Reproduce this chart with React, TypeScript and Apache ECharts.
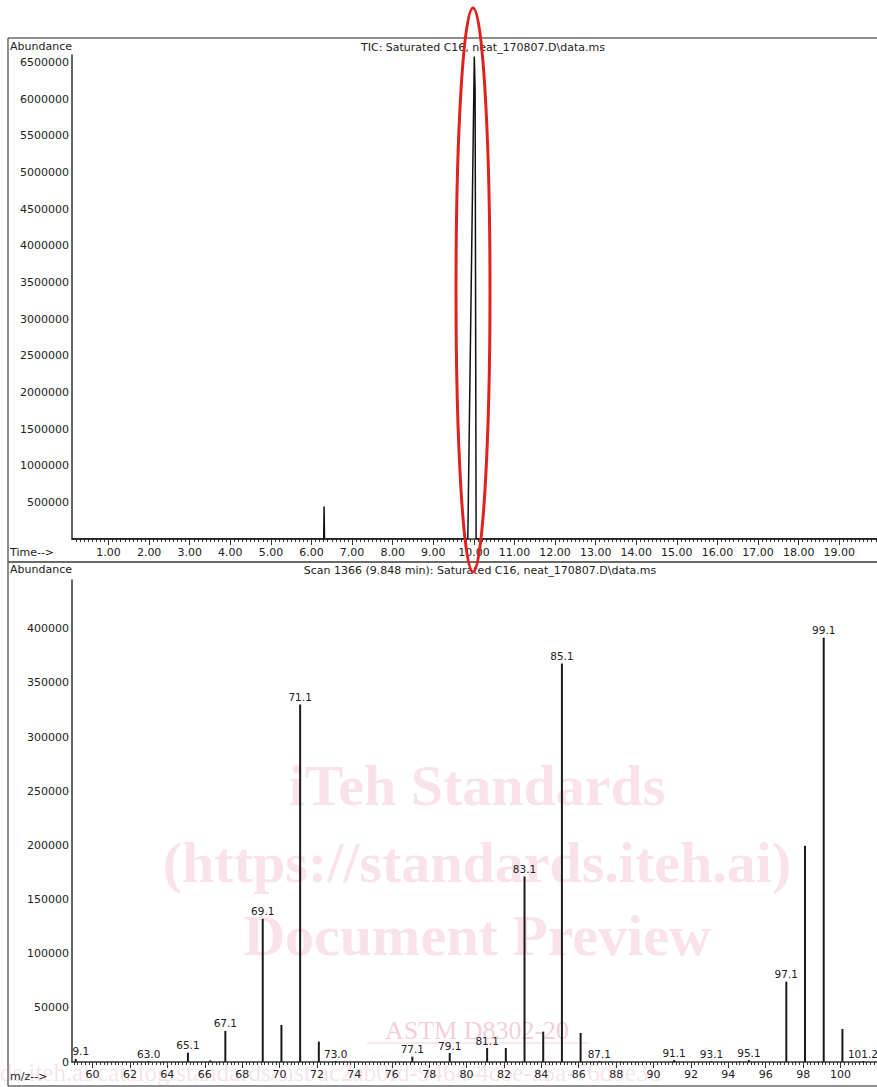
import React, { useEffect, useRef } from "react";
import * as echarts from "echarts";

// ---- Top chart (TIC) ----
const ticTitle = "TIC: Saturated C16, neat_170807.D\\data.ms";
const ticTimes = [0.1, 6.3, 6.31, 6.32, 9.85, 10.01, 10.03, 10.055, 19.93];
const ticAbund = [0, 0, 442000, 0, 0, 6580000, 6120000, 0, 0];
const ticMajorTicks = [1, 2, 3, 4, 5, 6, 7, 8, 9, 10, 11, 12, 13, 14, 15, 16, 17, 18, 19];

// ---- Bottom chart (mass spectrum) ----
const msTitle = "Scan 1366 (9.848 min): Saturated C16, neat_170807.D\\data.ms";
const msMz = [59.1, 63.0, 65.1, 66.3, 67.1, 69.1, 70.1, 71.1, 72.1, 73.0, 77.1, 79.1, 81.1, 82.1, 83.1, 84.1, 85.1, 86.1, 87.1, 91.1, 93.1, 95.1, 97.1, 98.1, 99.1, 100.1, 101.2];
const msAbund = [2800, 800, 8600, 1500, 28700, 132200, 34200, 330000, 18800, 800, 4900, 8300, 12900, 12900, 171300, 28000, 367800, 26800, 800, 1800, 600, 1800, 74200, 199600, 391600, 30500, 800];
const msLabels = ["9.1", "63.0", "65.1", "", "67.1", "69.1", "", "71.1", "", "73.0", "77.1", "79.1", "81.1", "", "83.1", "", "85.1", "", "87.1", "91.1", "93.1", "95.1", "97.1", "", "99.1", "", "101.2"];
const msMajorTicks = [60, 62, 64, 66, 68, 70, 72, 74, 76, 78, 80, 82, 84, 86, 88, 90, 92, 94, 96, 98, 100];

const FONT = "DejaVu Sans";
const TXT = "#222";
const AX = "#333";
const PINK = "rgba(226, 110, 150, 0.2)";

function range(a: number, b: number, step: number, dec: number) {
  const out: number[] = [];
  for (let v = a; v <= b + 1e-9; v += step) out.push(Math.round(v * Math.pow(10, dec)) / Math.pow(10, dec));
  return out;
}

export default function App() {
  const ref = useRef<HTMLDivElement>(null);
  useEffect(() => {
    if (!ref.current) return;
    const chart = echarts.init(ref.current, undefined, { renderer: "svg" });
    const ticMinor = range(0.2, 19.9, 0.1, 1);
    const msMinor = range(59.0, 101.8, 0.2, 1);
    const lbl = { fontFamily: FONT, fontSize: 11, color: TXT };
    const option: any = {
      animation: false,
      textStyle: { fontFamily: FONT },
      grid: [
        { left: 72, top: 55, height: 484, right: 0 },
        { left: 72, top: 580, height: 482, right: 0 },
      ],
      xAxis: [
        {
          type: "value", gridIndex: 0, position: "bottom", offset: 0, min: 0.1, max: 19.93,
          axisLine: { show: true, onZero: false, lineStyle: { color: AX, width: 1.5 } },
          axisTick: { show: true, customValues: ticMinor, length: 3, lineStyle: { color: AX } },
          axisLabel: { show: false },
          splitLine: { show: false },
        },
        {
          type: "value", gridIndex: 0, position: "bottom", offset: 0, min: 0.1, max: 19.93,
          axisLine: { show: false, onZero: false },
          axisTick: { show: true, customValues: ticMajorTicks, length: 6, lineStyle: { color: AX } },
          axisLabel: { ...lbl, customValues: ticMajorTicks, margin: 8, formatter: (v: number) => v.toFixed(2) },
          splitLine: { show: false },
        },
        {
          type: "value", gridIndex: 1, position: "bottom", offset: 0, min: 58.9, max: 101.95,
          axisLine: { show: true, onZero: false, lineStyle: { color: AX, width: 1.5 } },
          axisTick: { show: true, customValues: msMinor, length: 3, lineStyle: { color: AX } },
          axisLabel: { show: false },
          splitLine: { show: false },
        },
        {
          type: "value", gridIndex: 1, position: "bottom", offset: 0, min: 58.9, max: 101.95,
          axisLine: { show: false, onZero: false },
          axisTick: { show: true, customValues: msMajorTicks, length: 6, lineStyle: { color: AX } },
          axisLabel: { ...lbl, customValues: msMajorTicks, margin: 7 },
          splitLine: { show: false },
        },
      ],
      yAxis: [
        {
          type: "value", gridIndex: 0, min: 0, max: 6600000, interval: 500000,
          axisLine: { show: true, lineStyle: { color: AX, width: 1.5 } },
          axisTick: { show: false },
          splitLine: { show: false },
          axisLabel: {
            ...lbl, margin: 3, showMaxLabel: false,
            formatter: (v: number) => (v === 0 || v > 6500000 ? "" : String(v)),
          },
        },
        {
          type: "value", gridIndex: 1, min: 0, max: 445000, interval: 50000,
          axisLine: { show: true, lineStyle: { color: AX, width: 1.5 } },
          axisTick: { show: false },
          splitLine: { show: false },
          axisLabel: {
            ...lbl, margin: 3, showMaxLabel: false,
            formatter: (v: number) => (v > 400000 ? "" : String(v)),
          },
        },
      ],
      series: [
        {
          type: "line", xAxisIndex: 0, yAxisIndex: 0, symbol: "none",
          lineStyle: { color: "#111", width: 1.5 },
          data: ticTimes.map((t, i) => [t, ticAbund[i]]),
          z: 3,
        },
        {
          type: "bar", xAxisIndex: 2, yAxisIndex: 1, barWidth: 2,
          itemStyle: { color: "#1a1a1a" },
          data: msMz.map((m, i) => [m, msAbund[i]]),
          label: {
            show: true, position: "top", distance: 2,
            fontFamily: FONT, fontSize: 10.5, color: TXT,
            formatter: (p: any) => msLabels[p.dataIndex],
          },
          labelLayout: (p: any) => (p.dataIndex === 0 ? { dx: 5 } : {}),
          z: 3,
        },
      ],
      graphic: [
        // watermark
        { type: "text", z: 0, x: 477, y: 785, style: { text: "iTeh Standards", font: "bold 58px 'Liberation Serif'", fill: PINK, textAlign: "center", textVerticalAlign: "middle" } },
        { type: "text", z: 0, x: 477, y: 862, style: { text: "(https://standards.iteh.ai)", font: "bold 58px 'Liberation Serif'", fill: PINK, textAlign: "center", textVerticalAlign: "middle" } },
        { type: "text", z: 0, x: 477, y: 935, style: { text: "Document Preview", font: "bold 58px 'Liberation Serif'", fill: PINK, textAlign: "center", textVerticalAlign: "middle" } },
        { type: "text", z: 0, x: 477, y: 1030, style: { text: "ASTM D8302-20", font: "26px 'Liberation Serif'", fill: "rgba(226,110,150,0.35)", textAlign: "center", textVerticalAlign: "middle" } },
        { type: "line", z: 0, shape: { x1: 367, y1: 1043, x2: 588, y2: 1043 }, style: { stroke: "rgba(226,110,150,0.35)", lineWidth: 1 } },
        { type: "text", z: 0, x: 0, y: 1072, style: { text: "ds.iteh.ai/catalog/standards/sist/ac2ab0fd-9464-4c6e-a5a-76d0e36", font: "25px 'Liberation Serif'", fill: PINK, textAlign: "left", textVerticalAlign: "middle" } },
        // frame
        { type: "line", z: 10, shape: { x1: 8, y1: 38, x2: 877, y2: 38 }, style: { stroke: "#6a6a6a", lineWidth: 1.5 } },
        { type: "line", z: 10, shape: { x1: 8, y1: 38, x2: 8, y2: 1086 }, style: { stroke: "#6a6a6a", lineWidth: 1.5 } },
        { type: "line", z: 10, shape: { x1: 8, y1: 562, x2: 877, y2: 562 }, style: { stroke: "#6a6a6a", lineWidth: 2 } },
        { type: "line", z: 10, shape: { x1: 8, y1: 1086, x2: 877, y2: 1086 }, style: { stroke: "#6a6a6a", lineWidth: 1.5 } },
        // texts
        { type: "text", z: 10, x: 10, y: 46, style: { text: "Abundance", font: `11px '${FONT}'`, fill: TXT, textAlign: "left", textVerticalAlign: "middle" } },
        { type: "text", z: 10, x: 483, y: 47, style: { text: ticTitle, font: `11px '${FONT}'`, fill: TXT, textAlign: "center", textVerticalAlign: "middle" } },
        { type: "text", z: 10, x: 10, y: 552, style: { text: "Time-->", font: `11px '${FONT}'`, fill: TXT, textAlign: "left", textVerticalAlign: "middle" } },
        { type: "text", z: 10, x: 10, y: 569, style: { text: "Abundance", font: `11px '${FONT}'`, fill: TXT, textAlign: "left", textVerticalAlign: "middle" } },
        { type: "text", z: 10, x: 480, y: 570, style: { text: msTitle, font: `11px '${FONT}'`, fill: TXT, textAlign: "center", textVerticalAlign: "middle" } },
        { type: "text", z: 10, x: 10, y: 1076, style: { text: "m/z-->", font: `11px '${FONT}'`, fill: TXT, textAlign: "left", textVerticalAlign: "middle" } },
        // red highlight ellipse
        { type: "ellipse", z: 100, shape: { cx: 473, cy: 290, rx: 17, ry: 282 }, style: { fill: "none", stroke: "#e0221f", lineWidth: 3 } },
      ],
    };
    chart.setOption(option);
    return () => chart.dispose();
  }, []);
  return <div ref={ref} style={{ position: "fixed", left: 0, top: 0, width: 877, height: 1087, background: "#fff" }} />;
}
